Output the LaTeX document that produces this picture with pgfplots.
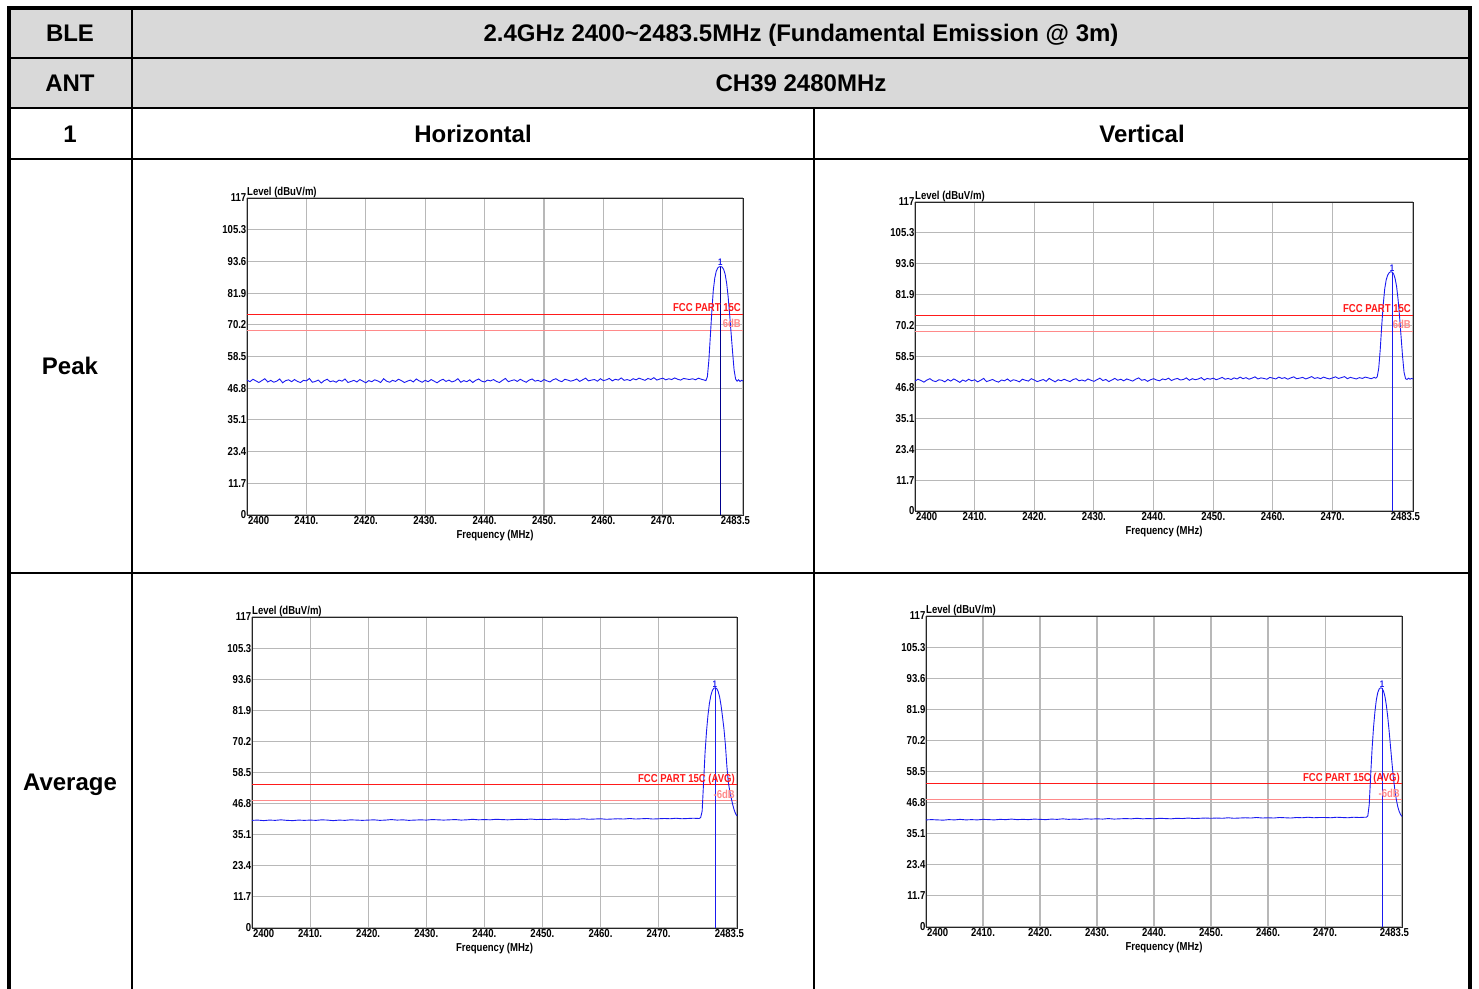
\documentclass[border=0pt]{standalone}
\usepackage{fontspec}
\setmainfont{Liberation Sans}
\newfontfamily\narrowfont[FakeStretch=0.83]{Liberation Sans}
\usepackage{pgfplots}
\usepackage{pgfplotstable}
\pgfplotsset{compat=1.18}
\definecolor{hdrgray}{HTML}{D9D9D9}
\definecolor{gridgray}{HTML}{B8B8B8}
\definecolor{trace}{HTML}{1A1AF0}
\definecolor{limred}{HTML}{FF1A1A}
\definecolor{limpink}{HTML}{FF8A8A}
\newcommand{\tf}{\narrowfont\bfseries\fontsize{11.5}{12}\selectfont}
\newcommand{\mf}{\narrowfont\bfseries\fontsize{9.5}{10}\selectfont}
\newcommand{\hf}{\bfseries\fontsize{24}{26}\selectfont}

\pgfplotstableread[row sep=\\]{
x ph pv \\
2400 49.8 49.2 \\ 2400.5 49.2 49.9 \\ 2401 50.1 49.4 \\ 2401.5 49.5 48.8 \\ 2402 48.9 49.6 \\ 2402.5 49.6 50.1 \\ 2403 50.3 49.3 \\ 2403.5 49.1 49.0 \\ 2404 49.7 49.7 \\ 2404.5 49.0 49.5 \\
2405 49.4 48.9 \\ 2405.5 50.2 49.8 \\ 2406 48.8 49.2 \\ 2406.5 49.6 50.0 \\ 2407 49.9 49.4 \\ 2407.5 49.2 48.7 \\ 2408 50.0 49.6 \\ 2408.5 49.3 49.1 \\ 2409 48.9 49.9 \\ 2409.5 49.7 49.3 \\
2410 49.5 49.7 \\ 2410.5 50.4 48.9 \\ 2411 49.0 49.5 \\ 2411.5 49.3 50.2 \\ 2412 49.8 49.0 \\ 2412.5 48.7 49.4 \\ 2413 49.6 49.8 \\ 2413.5 50.1 49.2 \\ 2414 49.2 48.8 \\ 2414.5 49.5 49.6 \\
2415 49.0 49.3 \\ 2415.5 49.8 50.0 \\ 2416 49.4 49.1 \\ 2416.5 50.2 49.7 \\ 2417 48.9 49.4 \\ 2417.5 49.3 48.9 \\ 2418 49.7 49.9 \\ 2418.5 49.1 49.5 \\ 2419 50.0 49.2 \\ 2419.5 49.4 50.1 \\
2420 48.8 49.6 \\ 2420.5 49.6 49.0 \\ 2421 49.2 49.4 \\ 2421.5 49.9 49.8 \\ 2422 49.5 49.1 \\ 2422.5 48.9 50.2 \\ 2423 50.3 49.5 \\ 2423.5 49.4 48.9 \\ 2424 49.0 49.7 \\ 2424.5 49.7 49.3 \\
2425 49.3 49.9 \\ 2425.5 50.1 49.4 \\ 2426 49.6 49.0 \\ 2426.5 48.9 49.8 \\ 2427 49.4 50.1 \\ 2427.5 49.8 49.3 \\ 2428 49.1 49.6 \\ 2428.5 50.2 49.2 \\ 2429 49.5 50.0 \\ 2429.5 49.0 49.5 \\
2430 49.7 49.1 \\ 2430.5 49.2 49.7 \\ 2431 50.0 50.3 \\ 2431.5 49.4 49.4 \\ 2432 48.8 49.8 \\ 2432.5 49.6 49.0 \\ 2433 50.1 49.6 \\ 2433.5 49.3 50.2 \\ 2434 49.8 49.5 \\ 2434.5 49.1 49.9 \\
2435 49.5 49.3 \\ 2435.5 50.3 50.0 \\ 2436 49.0 49.6 \\ 2436.5 49.6 49.2 \\ 2437 49.2 49.9 \\ 2437.5 49.9 50.4 \\ 2438 48.9 49.5 \\ 2438.5 49.7 49.8 \\ 2439 50.2 49.1 \\ 2439.5 49.4 49.7 \\
2440 49.1 50.1 \\ 2440.5 49.8 49.6 \\ 2441 49.5 49.3 \\ 2441.5 50.0 50.0 \\ 2442 49.3 49.7 \\ 2442.5 48.9 50.3 \\ 2443 49.7 49.4 \\ 2443.5 50.4 49.9 \\ 2444 49.2 50.2 \\ 2444.5 49.6 49.6 \\
2445 49.9 49.8 \\ 2445.5 49.3 50.4 \\ 2446 50.1 49.5 \\ 2446.5 49.5 50.1 \\ 2447 49.0 49.7 \\ 2447.5 49.8 50.0 \\ 2448 50.2 50.5 \\ 2448.5 49.4 49.6 \\ 2449 49.7 50.2 \\ 2449.5 49.2 49.9 \\
2450 50.0 50.3 \\ 2450.5 49.5 49.7 \\ 2451 49.1 50.1 \\ 2451.5 49.9 50.6 \\ 2452 50.3 49.9 \\ 2452.5 49.6 50.2 \\ 2453 49.2 49.8 \\ 2453.5 50.1 50.4 \\ 2454 49.8 50.0 \\ 2454.5 49.4 50.7 \\
2455 49.7 50.1 \\ 2455.5 50.2 50.5 \\ 2456 49.3 49.9 \\ 2456.5 49.9 50.3 \\ 2457 50.5 50.8 \\ 2457.5 49.5 50.0 \\ 2458 49.8 50.4 \\ 2458.5 50.0 50.2 \\ 2459 49.4 49.9 \\ 2459.5 50.3 50.6 \\
2460 49.6 50.3 \\ 2460.5 49.9 50.0 \\ 2461 50.4 50.7 \\ 2461.5 49.5 50.2 \\ 2462 50.1 50.5 \\ 2462.5 49.8 49.9 \\ 2463 50.6 50.4 \\ 2463.5 49.7 50.8 \\ 2464 50.0 50.1 \\ 2464.5 49.6 50.3 \\
2465 50.3 50.6 \\ 2465.5 49.9 50.0 \\ 2466 50.5 50.4 \\ 2466.5 50.1 50.9 \\ 2467 49.7 50.2 \\ 2467.5 50.4 50.5 \\ 2468 50.0 50.1 \\ 2468.5 50.7 50.7 \\ 2469 49.8 50.3 \\ 2469.5 50.2 50.0 \\
2470 50.5 50.4 \\ 2470.5 49.9 50.8 \\ 2471 50.3 50.2 \\ 2471.5 50.0 50.5 \\ 2472 50.6 50.9 \\ 2472.5 50.1 50.1 \\ 2473 49.8 50.6 \\ 2473.5 50.4 50.3 \\ 2474 50.2 50.0 \\ 2474.5 50.0 50.5 \\
2475 50.3 50.2 \\ 2475.5 49.9 50.7 \\ 2476 50.5 50.4 \\ 2476.5 50.1 50.1 \\ 2477 49.8 50.6 \\
2477.25 49.6 50.3 \\ 2477.5 51.0 50.8 \\ 2477.75 57 54 \\ 2478 66 61 \\ 2478.25 75 70 \\ 2478.5 83 78 \\ 2478.75 87.5 84 \\ 2479 90 87.5 \\ 2479.25 91.2 89.3 \\ 2479.5 91.6 90.2 \\
2479.75 91.7 90.6 \\ 2480 91.5 90.5 \\ 2480.25 90.6 89.8 \\ 2480.5 88.8 88 \\ 2480.75 85.5 85 \\ 2481 80.5 80 \\ 2481.25 74 73.5 \\ 2481.5 67 66 \\ 2481.75 60 58.5 \\ 2482 53.5 52.5 \\
2482.25 50.2 50.1 \\ 2482.5 49.4 49.8 \\ 2482.75 49.9 50.3 \\ 2483 49.3 49.9 \\ 2483.25 49.7 50.2 \\ 2483.5 49.5 50.0 \\
}\peakdata

\pgfplotstableread[row sep=\\]{
x ah av \\
2400 40.5 40.3 \\ 2401 40.6 40.4 \\ 2402 40.4 40.3 \\ 2403 40.6 40.2 \\ 2404 40.5 40.4 \\ 2405 40.7 40.3 \\ 2406 40.5 40.5 \\ 2407 40.4 40.3 \\ 2408 40.6 40.4 \\ 2409 40.5 40.3 \\
2410 40.6 40.5 \\ 2411 40.5 40.4 \\ 2412 40.7 40.3 \\ 2413 40.6 40.5 \\ 2414 40.4 40.4 \\ 2415 40.6 40.6 \\ 2416 40.5 40.4 \\ 2417 40.7 40.5 \\ 2418 40.6 40.4 \\ 2419 40.5 40.6 \\
2420 40.6 40.5 \\ 2421 40.7 40.4 \\ 2422 40.5 40.6 \\ 2423 40.6 40.5 \\ 2424 40.8 40.7 \\ 2425 40.6 40.5 \\ 2426 40.7 40.6 \\ 2427 40.5 40.5 \\ 2428 40.6 40.7 \\ 2429 40.7 40.6 \\
2430 40.6 40.7 \\ 2431 40.8 40.6 \\ 2432 40.7 40.8 \\ 2433 40.6 40.6 \\ 2434 40.7 40.7 \\ 2435 40.8 40.8 \\ 2436 40.6 40.7 \\ 2437 40.7 40.9 \\ 2438 40.9 40.7 \\ 2439 40.7 40.8 \\
2440 40.8 40.7 \\ 2441 40.7 40.9 \\ 2442 40.9 40.8 \\ 2443 40.8 40.7 \\ 2444 40.7 40.9 \\ 2445 40.8 40.8 \\ 2446 40.9 41.0 \\ 2447 40.8 40.8 \\ 2448 41.0 40.9 \\ 2449 40.8 41.0 \\
2450 40.9 40.9 \\ 2451 40.8 41.0 \\ 2452 41.0 40.9 \\ 2453 40.9 41.1 \\ 2454 40.8 40.9 \\ 2455 41.0 41.0 \\ 2456 40.9 41.1 \\ 2457 41.1 41.0 \\ 2458 40.9 41.2 \\ 2459 41.0 41.0 \\
2460 41.1 41.1 \\ 2461 40.9 41.0 \\ 2462 41.0 41.2 \\ 2463 41.1 41.1 \\ 2464 41.0 41.0 \\ 2465 41.2 41.2 \\ 2466 41.0 41.1 \\ 2467 41.1 41.3 \\ 2468 41.2 41.1 \\ 2469 41.0 41.2 \\
2470 41.1 41.2 \\ 2471 41.2 41.1 \\ 2472 41.1 41.3 \\ 2473 41.3 41.2 \\ 2474 41.1 41.1 \\ 2475 41.2 41.3 \\ 2476 41.3 41.2 \\ 2477 41.2 41.3 \\
2477.25 41.6 41.3 \\ 2477.5 44 41.8 \\ 2477.75 55 46 \\ 2478 66 57 \\ 2478.25 74 67 \\ 2478.5 80 75 \\ 2478.75 84.5 81 \\ 2479 87.5 85.5 \\ 2479.25 89.3 88.2 \\ 2479.5 90.2 89.6 \\
2479.75 90.4 90.0 \\ 2480 90.1 89.8 \\ 2480.25 89 88.8 \\ 2480.5 87 86.8 \\ 2480.75 83.8 83.5 \\ 2481 79.5 79 \\ 2481.25 75 73.5 \\ 2481.5 69 67.5 \\ 2481.75 61 61.5 \\ 2482 55 56 \\
2482.25 51.5 51.5 \\ 2482.5 49 48 \\ 2482.75 46.5 45.3 \\ 2483 44.5 43.5 \\ 2483.25 43 42.3 \\ 2483.5 42.2 41.6 \\
}\avgdata

\pgfplotsset{
  emiss/.style={
    scale only axis, anchor=north west,
    xmin=2400, xmax=2483.5, ymin=0, ymax=117,
    xtick={2400,2410,2420,2430,2440,2450,2460,2470,2483.5},
    xticklabels={\makebox[0pt][l]{\kern1pt 2400},2410.,2420.,2430.,2440.,2450.,2460.,2470.,\makebox[0pt][r]{2483.5\kern-7pt}},
    ytick={0,11.7,23.4,35.1,46.8,58.5,70.2,81.9,93.6,105.3,117},
    yticklabels={0,11.7,23.4,35.1,46.8,58.5,70.2,81.9,93.6,105.3,117},
    grid=major,
    major grid style={gridgray, line width=1.1pt},
    axis line style={black!85, line width=0.8pt},
    major tick length=0pt,
    ticklabel style={font=\tf},
    yticklabel style={inner xsep=0.5pt},
    xticklabel style={inner ysep=1.5pt},
    clip=false,
  },
  limline/.style={line width=0.8pt, forget plot},
  tr/.style={trace, line width=0.9pt},
}

\begin{document}
\begin{tikzpicture}
\useasboundingbox (0pt,0pt) rectangle (1479pt,-988pt);
% table
\fill[hdrgray] (9pt,-8pt) rectangle (1470pt,-108pt);
\draw[line width=1.8pt] (9pt,-58pt) -- (1470pt,-58pt);
\draw[line width=1.8pt] (9pt,-108pt) -- (1470pt,-108pt);
\draw[line width=1.8pt] (9pt,-159pt) -- (1470pt,-159pt);
\draw[line width=1.8pt] (9pt,-573pt) -- (1470pt,-573pt);
\draw[line width=2pt] (132pt,-8pt) -- (132pt,-990pt);
\draw[line width=1.8pt] (814pt,-108pt) -- (814pt,-990pt);
\draw[line width=3.5pt] (9pt,-990pt) -- (9pt,-8pt) -- (1470pt,-8pt) -- (1470pt,-990pt);
\node[font=\hf, anchor=base] at (70pt,-41.5pt) {BLE};
\node[font=\hf, anchor=base] at (801pt,-41.5pt) {2.4GHz 2400\textasciitilde 2483.5MHz (Fundamental Emission @ 3m)};
\node[font=\hf, anchor=base] at (70pt,-91.5pt) {ANT};
\node[font=\hf, anchor=base] at (801pt,-91.5pt) {CH39 2480MHz};
\node[font=\hf, anchor=base] at (70pt,-142pt) {1};
\node[font=\hf, anchor=base] at (473pt,-142pt) {Horizontal};
\node[font=\hf, anchor=base] at (1142pt,-142pt) {Vertical};
\node[font=\hf, anchor=base] at (70pt,-374.5pt) {Peak};
\node[font=\hf, anchor=base] at (70pt,-790.5pt) {Average};

% Peak Horizontal
\begin{axis}[emiss, at={(247pt,-198pt)}, width=496pt, height=317pt]
\addplot[limred, limline] coordinates {(2400,74) (2483.5,74)};
\addplot[limpink, limline] coordinates {(2400,68) (2483.5,68)};
\addplot[tr] table[x=x,y=ph] {\peakdata};
\addplot[blue!55!black, line width=0.8pt] coordinates {(2479.7,0) (2479.7,91.7)};
\node[font=\mf, text=trace, anchor=south, inner sep=0.5pt] at (axis cs:2479.7,91.7) {1};
\node[font=\tf, text=limred, anchor=base east, inner sep=0pt, xshift=-2pt, yshift=3pt] at (axis cs:2483.5,74) {FCC PART 15C};
\node[font=\tf, text=limpink, anchor=base east, inner sep=0pt, xshift=-2pt, yshift=3pt] at (axis cs:2483.5,68) {6dB};
\node[font=\tf, anchor=base west, inner sep=0pt, yshift=3pt] at (rel axis cs:0,1) {Level (dBuV/m)};
\node[font=\tf] at ([yshift=-21pt]rel axis cs:0.5,0) {Frequency (MHz)};
\end{axis}

% Peak Vertical
\begin{axis}[emiss, at={(915pt,-202pt)}, width=498pt, height=309pt]
\addplot[limred, limline] coordinates {(2400,74) (2483.5,74)};
\addplot[limpink, limline] coordinates {(2400,68) (2483.5,68)};
\addplot[tr] table[x=x,y=pv] {\peakdata};
\addplot[trace, line width=0.8pt] coordinates {(2480,0) (2480,90.6)};
\node[font=\mf, text=trace, anchor=south, inner sep=0.5pt] at (axis cs:2480,90.6) {1};
\node[font=\tf, text=limred, anchor=base east, inner sep=0pt, xshift=-2pt, yshift=3pt] at (axis cs:2483.5,74) {FCC PART 15C};
\node[font=\tf, text=limpink, anchor=base east, inner sep=0pt, xshift=-2pt, yshift=3pt] at (axis cs:2483.5,68) {6dB};
\node[font=\tf, anchor=base west, inner sep=0pt, yshift=3pt] at (rel axis cs:0,1) {Level (dBuV/m)};
\node[font=\tf] at ([yshift=-21pt]rel axis cs:0.5,0) {Frequency (MHz)};
\end{axis}

% Average Horizontal
\begin{axis}[emiss, at={(252pt,-617pt)}, width=485pt, height=311pt]
\addplot[limred, limline] coordinates {(2400,54) (2483.5,54)};
\addplot[limpink, limline] coordinates {(2400,48) (2483.5,48)};
\addplot[tr] table[x=x,y=ah] {\avgdata};
\addplot[trace, line width=0.8pt] coordinates {(2479.7,0) (2479.7,90.4)};
\node[font=\mf, text=trace, anchor=south, inner sep=0.5pt] at (axis cs:2479.7,90.4) {1};
\node[font=\tf, text=limred, anchor=base east, inner sep=0pt, xshift=-2pt, yshift=2pt] at (axis cs:2483.5,54) {FCC PART 15C (AVG)};
\node[font=\tf, text=limpink, anchor=base east, inner sep=0pt, xshift=-2pt, yshift=2pt] at (axis cs:2483.5,48) {-6dB};
\node[font=\tf, anchor=base west, inner sep=0pt, yshift=3pt] at (rel axis cs:0,1) {Level (dBuV/m)};
\node[font=\tf] at ([yshift=-21pt]rel axis cs:0.5,0) {Frequency (MHz)};
\end{axis}

% Average Vertical
\begin{axis}[emiss, at={(926pt,-616pt)}, width=476pt, height=311pt]
\addplot[limred, limline] coordinates {(2400,54) (2483.5,54)};
\addplot[limpink, limline] coordinates {(2400,48) (2483.5,48)};
\addplot[tr] table[x=x,y=av] {\avgdata};
\addplot[trace, line width=0.8pt] coordinates {(2480,0) (2480,90.0)};
\node[font=\mf, text=trace, anchor=south, inner sep=0.5pt] at (axis cs:2480,90.0) {1};
\node[font=\tf, text=limred, anchor=base east, inner sep=0pt, xshift=-2pt, yshift=2pt] at (axis cs:2483.5,54) {FCC PART 15C (AVG)};
\node[font=\tf, text=limpink, anchor=base east, inner sep=0pt, xshift=-2pt, yshift=2pt] at (axis cs:2483.5,48) {-6dB};
\node[font=\tf, anchor=base west, inner sep=0pt, yshift=3pt] at (rel axis cs:0,1) {Level (dBuV/m)};
\node[font=\tf] at ([yshift=-21pt]rel axis cs:0.5,0) {Frequency (MHz)};
\end{axis}
\end{tikzpicture}
\end{document}
